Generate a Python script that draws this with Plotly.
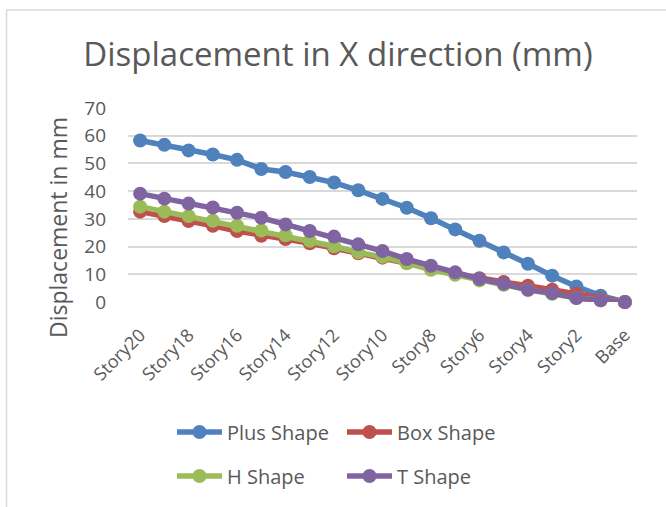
import plotly.graph_objects as go

# Storey labels, top storey first, ending at the base
stories = [f"Story{i}" for i in range(20, 0, -1)] + ["Base"]

# Lateral displacement in X direction (mm) for each plan shape
plus_shape = [58.3, 56.7, 54.7, 53.2, 51.3, 48.0, 46.9, 45.1, 43.1, 40.3, 37.2,
              34.0, 30.2, 26.2, 22.1, 17.9, 13.8, 9.5, 5.6, 2.3, 0.0]
box_shape = [32.6, 31.0, 29.2, 27.5, 25.6, 23.9, 22.7, 21.2, 19.4, 17.6, 16.0,
             14.4, 12.2, 10.2, 8.6, 7.2, 5.9, 4.4, 3.0, 1.1, 0.0]
h_shape = [34.4, 32.6, 31.0, 29.3, 27.5, 25.8, 24.1, 22.1, 20.1, 17.9, 16.3,
           14.0, 11.6, 9.8, 7.8, 6.2, 4.4, 3.0, 1.4, 0.6, 0.0]
t_shape = [39.1, 37.3, 35.5, 34.1, 32.2, 30.4, 28.0, 25.6, 23.6, 20.8, 18.4,
           15.5, 13.1, 10.7, 8.3, 6.6, 4.4, 3.2, 1.4, 0.6, 0.0]

series_names = ["Plus Shape", "Box Shape", "H Shape", "T Shape"]
series_values = [plus_shape, box_shape, h_shape, t_shape]
colors = ["#4F81BD", "#C0504D", "#9BBB59", "#8064A2"]
legend_ids = ["legend", "legend", "legend2", "legend2"]

y_ticks = [0, 10, 20, 30, 40, 50, 60, 70]

W, H = 666, 507
L, R, T, B = 128, 29, 108, 205
FONT = "'Open Sans', Lato, sans-serif"
TXT = "#595959"

fig = go.Figure()
for name, vals, col, lg in zip(series_names, series_values, colors, legend_ids):
    fig.add_trace(go.Scatter(
        x=stories, y=vals, name=name, mode="lines+markers",
        line=dict(color=col, width=5.5),
        marker=dict(color=col, size=14),
        cliponaxis=False, legend=lg,
    ))

pw, ph = W - L - R, H - T - B


def px_x(x):
    return (x - L) / pw


def px_y(y):
    return (H - B - y) / ph


# thin frame around the chart area (left and top edges)
frame = dict(type="line", xref="paper", yref="paper",
             line=dict(color="#D9D9D9", width=1.5))
fig.add_shape(**frame, x0=px_x(6.5), x1=px_x(6.5), y0=px_y(10), y1=px_y(H + 5))
fig.add_shape(**frame, x0=px_x(6.5), x1=px_x(W + 5), y0=px_y(10), y1=px_y(10))

# vertical axis title
fig.add_annotation(
    text="Displacement in mm", textangle=-90, showarrow=False,
    xref="paper", yref="paper", x=px_x(58), y=px_y(228),
    xanchor="center", yanchor="middle",
    font=dict(family=FONT, size=23, color=TXT),
)

legend_common = dict(
    orientation="h", xanchor="left", yanchor="middle",
    entrywidth=110, entrywidthmode="pixels", itemwidth=45,
    font=dict(family=FONT, size=20, color=TXT),
    bgcolor="rgba(0,0,0,0)", tracegroupgap=0,
)

fig.update_layout(
    width=W, height=H,
    margin=dict(l=L, r=R, t=T, b=B),
    paper_bgcolor="white", plot_bgcolor="white",
    title=dict(text="Displacement in X direction (mm)",
               font=dict(family=FONT, size=33, color=TXT),
               x=338 / W, xanchor="center", y=1 - 54 / H, yanchor="middle"),
    xaxis=dict(
        type="category", categoryorder="array", categoryarray=stories,
        tickmode="array", tickvals=stories[::2], ticktext=stories[::2],
        tickangle=-45, tickfont=dict(family=FONT, size=18, color=TXT),
        showgrid=False, showline=False, zeroline=False, ticks="",
        ticklabelstandoff=18,
        range=[-0.5, len(stories) - 0.5],
    ),
    yaxis=dict(
        range=[0, 70], tickvals=y_ticks,
        tickfont=dict(family=FONT, size=19, color=TXT),
        showgrid=True, gridcolor="#D9D9D9", gridwidth=1.5,
        zeroline=False, showline=False, ticks="", ticklabelstandoff=21,
    ),
    legend=dict(**legend_common, x=px_x(172), y=px_y(432)),
    legend2=dict(**legend_common, x=px_x(172), y=px_y(476)),
    showlegend=True,
)

fig.write_html("out.html")
